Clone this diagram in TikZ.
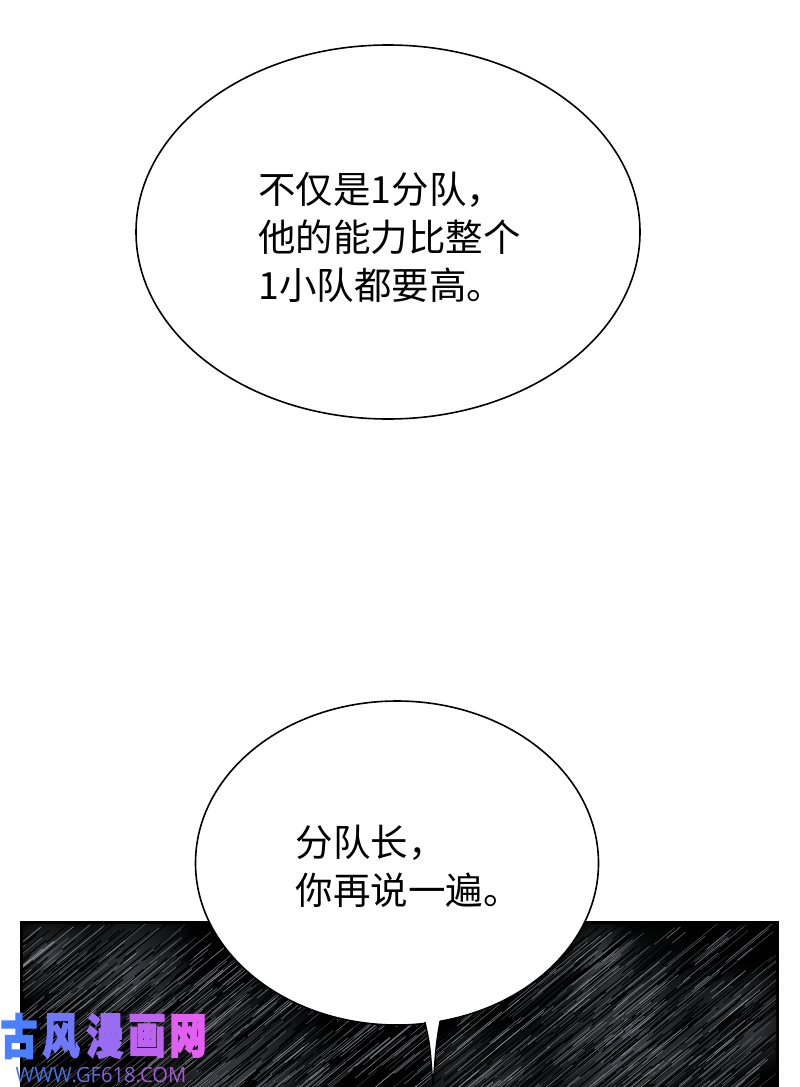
\documentclass[tikz,border=0pt]{standalone}
\usepackage{fontspec}
\usetikzlibrary{shapes.geometric,calc,fadings}
\newfontfamily\cjk{Noto Sans CJK SC}
\newfontfamily\wmfont[BoldFeatures={FakeBold=3}]{Noto Sans CJK SC}
\newfontfamily\webfont{Open Sans}
\definecolor{wmA}{HTML}{4A7FFF}
\definecolor{wmB}{HTML}{6E78F8}
\definecolor{wmC}{HTML}{9A6CF2}
\definecolor{wmD}{HTML}{BC63F0}
\definecolor{wmE}{HTML}{E25FF2}
\definecolor{slate}{HTML}{4A5157}
\definecolor{hatchgray}{HTML}{A8AEB2}
\tikzset{
  bubble/.style={ellipse,draw=black,fill=white,line width=1.6pt,inner sep=0pt},
  saytext/.style={anchor=west,align=left,inner sep=0pt,font=\cjk\fontsize{37.5}{48}\selectfont,text=black},
  wmchar/.style={inner sep=0pt,font=\wmfont\bfseries\fontsize{40}{40}\selectfont,xscale=.93,yscale=1.2},
  blob/.style={fill=slate,path fading=fuzzy,opacity=.8},
}
\tikzfading[name=fuzzy,inner color=transparent!0,outer color=transparent!100]
\begin{document}
\begin{tikzpicture}[x=1pt,y=-1pt]
\useasboundingbox (0,0) rectangle (800,1087);
\fill[white] (0,0) rectangle (800,1087);
% dark panel
\fill[black] (20,921) rectangle (779,1087);
\begin{scope}
\clip (23,924) rectangle (776,1087);
\foreach \cx/\cy/\rr in {240/1080/110,130/975/80,50/960/50,630/1050/130,480/1085/70,745/1020/60,600/960/45}{
  \path[blob] (\cx,\cy) circle (\rr);
}
\pgfmathsetseed{618}
\foreach \i in {1,...,1100}{
  \pgfmathsetmacro{\px}{20+rnd*770}
  \pgfmathsetmacro{\py}{921+rnd*180}
  \pgfmathsetmacro{\ln}{20+rnd*60}
  \draw[black,line width=1pt] (\px,\py) -- ++(-\ln*.78,\ln*.64);
}
\pgfmathsetseed{1087}
\foreach \i in {1,...,800}{
  \pgfmathsetmacro{\px}{20+rnd*770}
  \pgfmathsetmacro{\py}{921+rnd*180}
  \pgfmathsetmacro{\ln}{15+rnd*55}
  \pgfmathsetmacro{\op}{.25+rnd*.5}
  \draw[hatchgray,line width=.6pt,opacity=\op] (\px,\py) -- ++(-\ln*.78,\ln*.64);
}
\end{scope}
% bubbles
\node[bubble,minimum width=504pt,minimum height=374pt] (top) at (388,232) {};
\node[bubble,minimum width=403pt,minimum height=324pt] (low) at (397,863) {};
\coordinate (tipL) at (425,1022);
\coordinate (tipR) at (440,1021);
\coordinate (tip) at (433,1086);
\fill[white] (tipL) .. controls (430,1045) .. (tip) .. controls (436,1045) .. (tipR) -- ++(0,-6) -- ($(tipL)+(0,-6)$) -- cycle;
\draw[black,line width=1.3pt] (tipL) .. controls (430,1045) .. (tip) .. controls (436,1045) .. (tipR);
% speech
\node[saytext] (say1) at (258,237) {不仅是1分队，\\他的能力比整个\\1小队都要高。};
\node[saytext] (say2) at (295.5,866) {分队长，\\你再说一遍。};
% watermark
\foreach \nm/\x/\c/\t in {wa/19/wmA/古,wb/61/wmB/风,wc/105/wmC/漫,wd/147/wmD/画,we/188/wmE/网}{
  \node[wmchar,text=\c] (\nm) at (\x,1036) {\t};
}
\node[inner sep=0pt,anchor=center,font=\webfont\fontsize{21}{21}\selectfont,xscale=.96] (web) at (101,1075)
 {\textcolor{wmA!90!black}{WWW}\textcolor{wmB!90!black}{.GF}\textcolor{wmC!90!black}{618}\textcolor{wmD!90!black}{.COM}};
\end{tikzpicture}
\end{document}
